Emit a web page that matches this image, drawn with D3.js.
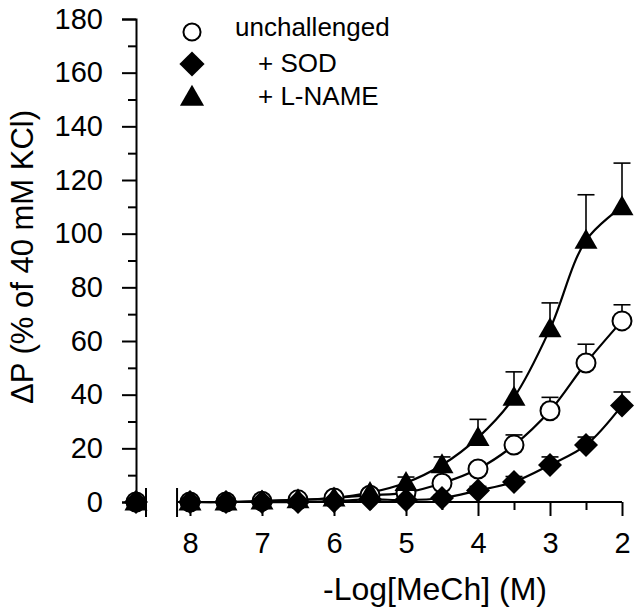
<!DOCTYPE html>
<html>
<head>
<meta charset="utf-8">
<script src="https://cdn.jsdelivr.net/npm/d3@7"></script>
<style>
  html, body { margin: 0; padding: 0; background: #fff; }
  svg text { font-family: "Liberation Sans", Arial, Helvetica, sans-serif; fill: #000; }
</style>
</head>
<body>
<svg id="chart" width="640" height="610"></svg>
<script>
// ---- data ----
const conc = [8, 7.5, 7, 6.5, 6, 5.5, 5, 4.5, 4, 3.5, 3, 2.5, 2];
const unchallenged    = [0, 0, 0.3, 0.8, 1.5, 2.5, 3.5, 7, 12.3, 21.2, 34, 51.8, 67.5];
const unchallengedErr = [0, 0, 0, 0, 0.5, 0.8, 1, 1.5, 2, 3.8, 5, 7, 6];
const sod    = [0, 0, 0, 0, 0.3, 1, 0.7, 1.5, 4.3, 7.5, 13.8, 21.2, 36];
const sodErr = [0, 0, 0, 0, 0, 0.5, 0.5, 1, 1.5, 2, 3, 3, 5];
const lname    = [0, 0, 0.3, 0.8, 1.5, 3.5, 7.2, 13.8, 24, 39, 64.5, 97.5, 110];
const lnameErr = [0, 0, 0, 0, 0.5, 1, 2.1, 3, 6.8, 9.5, 9.7, 17, 16.3];
const baselineValues = [0, 0, 0];   // unchallenged, SOD, L-NAME at baseline (no MeCh)
const xTicks = [8, 7, 6, 5, 4, 3, 2];
const xMinorTicks = [7.5, 6.5, 5.5, 4.5, 3.5, 2.5];
const yTicks = [0, 20, 40, 60, 80, 100, 120, 140, 160, 180];
const yMinorTicks = [10, 30, 50, 70, 90, 110, 130, 150, 170];
const seriesNames = ["unchallenged", "+ SOD", "+ L-NAME"];

const series = [
  {name: seriesNames[0], values: unchallenged, err: unchallengedErr, shape: "circle"},
  {name: seriesNames[1], values: sod, err: sodErr, shape: "diamond"},
  {name: seriesNames[2], values: lname, err: lnameErr, shape: "triangle"}
];

// ---- scales ----
const svg = d3.select("#chart");
const y = d3.scaleLinear().domain([0, 180]).range([502, 19]);
const x = d3.scaleLinear().domain([8, 2]).range([190, 622]);
const xBase = d3.scaleLinear().domain([0, 1]).range([136, 146]); // baseline segment

const axisColor = "#000";

// ---- y axis ----
const yAxis = svg.append("g").attr("transform", "translate(136,0)");
yAxis.call(d3.axisLeft(y).tickValues(yTicks).tickSize(14).tickPadding(19).tickFormat(d3.format("d")));
yAxis.append("g").call(d3.axisLeft(y).tickValues(yMinorTicks).tickSize(8).tickFormat(""));
yAxis.selectAll("path").attr("stroke-width", 2).attr("stroke", axisColor);
yAxis.selectAll("g").selectAll(".domain").remove();
yAxis.selectAll("line").attr("stroke-width", 2).attr("stroke", axisColor);
yAxis.selectAll("text").style("font-size", "29px");

// baseline segment of x axis with break mark
svg.append("line").attr("x1", xBase(0)).attr("x2", xBase(1)).attr("y1", y(0)).attr("y2", y(0))
  .attr("stroke", axisColor).attr("stroke-width", 2);
svg.append("line").attr("x1", xBase(1)).attr("x2", xBase(1)).attr("y1", y(0) - 14).attr("y2", y(0) + 15)
  .attr("stroke", axisColor).attr("stroke-width", 2);

// ---- x axis (main segment) ----
const xAxisG = svg.append("g").attr("transform", `translate(0,${y(0)})`);
xAxisG.append("line").attr("x1", x(8.18)).attr("x2", x(2)).attr("y1", 0).attr("y2", 0)
  .attr("stroke", axisColor).attr("stroke-width", 2);
xAxisG.append("line").attr("x1", x(8.18)).attr("x2", x(8.18)).attr("y1", -14).attr("y2", 15)
  .attr("stroke", axisColor).attr("stroke-width", 2);
const xa = xAxisG.append("g").call(d3.axisBottom(x).tickValues(xTicks).tickSize(14).tickPadding(16).tickFormat(d3.format("d")));
const xm = xAxisG.append("g").call(d3.axisBottom(x).tickValues(xMinorTicks).tickSize(8).tickFormat(""));
xAxisG.selectAll(".domain").remove();
xAxisG.selectAll("line").attr("stroke-width", 2).attr("stroke", axisColor);
xa.selectAll("text").style("font-size", "29px");

// ---- axis titles ----
svg.append("text")
  .attr("transform", "translate(33,257) rotate(-90)")
  .attr("text-anchor", "middle")
  .style("font-size", "31px")
  .text("ΔP (% of 40 mM KCl)");
svg.append("text")
  .attr("x", 435).attr("y", 600)
  .attr("text-anchor", "middle")
  .style("font-size", "32px")
  .text("-Log[MeCh] (M)");

// ---- marker drawing ----
function drawMarker(g, shape, cx, cy, s) {
  if (shape === "circle") {
    g.append("circle").attr("cx", cx).attr("cy", cy).attr("r", 9.5 * s)
      .attr("fill", "#fff").attr("stroke", "#000").attr("stroke-width", 2);
  } else if (shape === "diamond") {
    const w = 12 * s, h = 12 * s;
    g.append("path").attr("d", `M${cx},${cy - h}L${cx + w},${cy}L${cx},${cy + h}L${cx - w},${cy}Z`)
      .attr("fill", "#000");
  } else {
    const w = 11.5 * s, h = 20 * s;
    g.append("path").attr("d", `M${cx},${cy - h * 0.58}L${cx + w},${cy + h * 0.42}L${cx - w},${cy + h * 0.42}Z`)
      .attr("fill", "#000");
  }
}

const line = d3.line().x(d => d[0]).y(d => d[1]).curve(d3.curveCatmullRom.alpha(0.5));

// curves
series.forEach(s => {
  const pts = conc.map((c, i) => [x(c), y(s.values[i])]);
  svg.append("path").attr("d", line(pts)).attr("fill", "none")
    .attr("stroke", "#000").attr("stroke-width", 2.2);
});

// error bars (upward only)
series.forEach(s => {
  const eg = svg.append("g");
  conc.forEach((c, i) => {
    if (s.err[i] <= 0) return;
    const top = y(s.values[i] + s.err[i]);
    eg.append("line").attr("x1", x(c)).attr("x2", x(c)).attr("y1", y(s.values[i])).attr("y2", top)
      .attr("stroke", "#000").attr("stroke-width", 1.6);
    eg.append("line").attr("x1", x(c) - 8.5).attr("x2", x(c) + 8.5).attr("y1", top).attr("y2", top)
      .attr("stroke", "#000").attr("stroke-width", 1.6);
  });
});

// markers
[0, 2, 1].forEach(si => {
  const s = series[si];
  const mg = svg.append("g");
  drawMarker(mg, s.shape, xBase(0), y(baselineValues[si]), 1);
  conc.forEach((c, i) => drawMarker(mg, s.shape, x(c), y(s.values[i]), 1));
});

// ---- legend ----
const legendRows = [
  {shape: "circle", name: seriesNames[0], my: 32, ty: 36, tx: 235},
  {shape: "diamond", name: seriesNames[1], my: 64, ty: 72, tx: 258},
  {shape: "triangle", name: seriesNames[2], my: 97, ty: 105, tx: 258}
];
const lg = svg.append("g");
legendRows.forEach(r => {
  drawMarker(lg, r.shape, 192, r.my, r.shape === "circle" ? 0.9 : 1.05);
  lg.append("text").attr("x", r.tx).attr("y", r.ty).style("font-size", "26px").text(r.name);
});
</script>
</body>
</html>
